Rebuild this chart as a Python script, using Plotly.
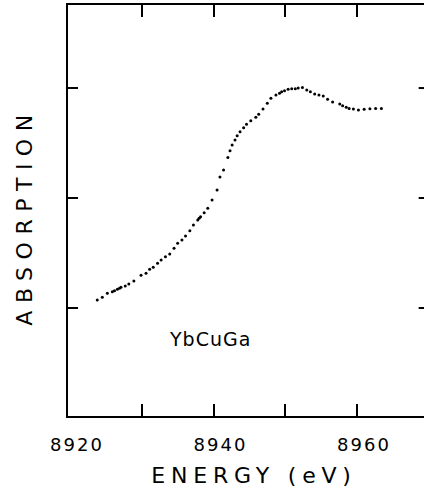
import plotly.graph_objects as go

# Energy (eV)
energy = [
    8923.8, 8924.5, 8925.2, 8925.9, 8926.2, 8926.6, 8926.9, 8927.1, 8927.7, 8928.2,
    8928.9, 8929.9, 8930.6, 8931.1, 8931.6, 8932.2, 8932.7, 8933.3, 8933.9, 8934.5,
    8935.0, 8935.6, 8936.1, 8936.7, 8937.2, 8937.8, 8938.0, 8938.2, 8938.7, 8939.2,
    8939.8, 8940.5, 8940.9, 8941.4, 8942.0, 8942.3, 8942.6, 8943.0, 8943.3, 8943.7,
    8944.2, 8944.6, 8945.2, 8945.9, 8946.3, 8946.9, 8947.5, 8948.0, 8948.7, 8949.2,
    8949.5, 8949.9, 8950.4, 8950.9, 8951.4, 8951.8, 8952.4, 8953.0, 8953.5, 8954.1,
    8954.7, 8955.3, 8955.9, 8956.6, 8957.6, 8958.0, 8958.5, 8958.9, 8959.5, 8960.2,
    8961.0, 8961.8, 8962.6, 8963.4,
]
# Absorption (arbitrary units)
absorption = [
    1.073, 1.097, 1.134, 1.148, 1.157, 1.170, 1.179, 1.188, 1.200, 1.218,
    1.245, 1.297, 1.315, 1.352, 1.370, 1.406, 1.436, 1.466, 1.491, 1.543,
    1.588, 1.618, 1.655, 1.703, 1.755, 1.800, 1.815, 1.830, 1.866, 1.906,
    1.982, 2.073, 2.191, 2.255, 2.368, 2.430, 2.482, 2.527, 2.566, 2.603,
    2.639, 2.670, 2.703, 2.734, 2.761, 2.809, 2.861, 2.906, 2.936, 2.952,
    2.966, 2.975, 2.988, 2.994, 2.994, 3.000, 3.006, 2.982, 2.966, 2.945,
    2.936, 2.927, 2.897, 2.873, 2.855, 2.839, 2.825, 2.815, 2.809, 2.800,
    2.806, 2.812, 2.815, 2.815,
]

x_label_vals = [8920, 8940, 8960]
x_label_text = ["8920", "8940", "8960"]
x_tick_marks = [8930, 8940, 8950, 8960]
y_tick_marks = [1, 2, 3]
x_range = [8919.72, 8969.34]
y_range = [0.018, 3.755]
sample_name = "YbCuGa"

FONT = "DejaVu Sans"

fig = go.Figure()
fig.add_trace(go.Scatter(
    x=energy, y=absorption, mode="markers",
    marker=dict(size=3, color="black"),
    showlegend=False, hoverinfo="skip",
))

fig.update_layout(
    width=424, height=496,
    margin=dict(l=68, r=0, t=5, b=80),
    paper_bgcolor="white", plot_bgcolor="white",
    font=dict(family=FONT, color="black"),
    xaxis=dict(
        range=x_range, showgrid=False, zeroline=False,
        showline=True, linewidth=2, linecolor="black", mirror="ticks",
        tickmode="array", tickvals=x_label_vals, ticktext=x_label_text,
        ticks="", ticklabelshift=7, ticklabelstandoff=11,
        tickfont=dict(size=18, family=FONT, color="black"),
        minor=dict(tickmode="array", tickvals=x_tick_marks, ticks="inside",
                   ticklen=12, tickwidth=2, tickcolor="black", showgrid=False),
        title=dict(text="ENERGY (eV)", font=dict(size=22, family=FONT, color="black"),
                   standoff=14),
    ),
    yaxis=dict(
        range=y_range, showgrid=False, zeroline=False,
        showline=True, linewidth=2, linecolor="black", mirror=False,
        tickmode="array", tickvals=y_tick_marks, ticks="inside",
        ticklen=10, tickwidth=2, tickcolor="black", showticklabels=False,
        title=dict(text="ABSORPTION", font=dict(size=22, family=FONT, color="black"),
                   standoff=27),
    ),
    annotations=[dict(
        text=sample_name, x=8939.5, y=0.72, xref="x", yref="y",
        showarrow=False, font=dict(size=19, family=FONT, color="black"),
    )],
)

# short inward tick marks on the right edge (the right frame line lies outside the picture)
for v in y_tick_marks:
    fig.add_shape(type="line", xref="paper", yref="y", x0=1, x1=0.985, y0=v, y1=v,
                  line=dict(color="black", width=2))

post = """
document.documentElement.style.margin='0';
document.documentElement.style.overflow='hidden';
document.body.style.margin='0';
document.body.style.overflow='hidden';
var s=document.createElement('style');
s.innerHTML='.xtitle{letter-spacing:5.8px;translate:8px 0}.ytitle{letter-spacing:7.5px;translate:0 6px}.xtick text{letter-spacing:2px;font-weight:bold}.annotation-text{letter-spacing:1px}';
document.head.appendChild(s);
"""
fig.write_html("out.html", post_script=post, config={"displayModeBar": False})
